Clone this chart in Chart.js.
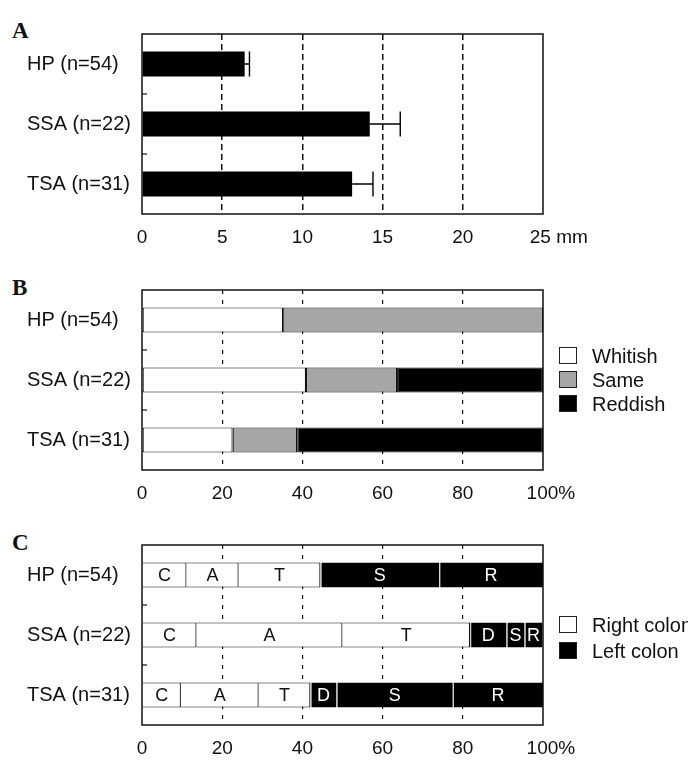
<!DOCTYPE html>
<html>
<head>
<meta charset="utf-8">
<script src="https://cdn.jsdelivr.net/npm/chart.js@4.4.0/dist/chart.umd.min.js"></script>
<style>
  body { margin: 0; background: #fff; }
  #wrap { position: relative; width: 688px; height: 767px; overflow: hidden; font-family: "Liberation Sans", Arial, sans-serif; color: #111; }
  canvas { position: absolute; left: 0; }
  .panel { position: absolute; left: 12px; font-family: "Liberation Serif", "Times New Roman", serif; font-weight: bold; font-size: 23px; line-height: 23px; }
  .box { position: absolute; left: 559px; width: 16px; height: 15px; border: 1px solid #222; }
  .txt { position: absolute; left: 592px; font-size: 20px; line-height: 22px; white-space: nowrap; }
</style>
</head>
<body>
<div id="wrap">
  <div class="panel" style="top:19px">A</div>
  <div class="panel" style="top:276px">B</div>
  <div class="panel" style="top:531px">C</div>
  <canvas id="chartA" width="688" height="256" style="top:0"></canvas>
  <canvas id="chartB" width="688" height="256" style="top:256px"></canvas>
  <canvas id="chartC" width="688" height="256" style="top:511px"></canvas>
  <div id="legB"></div>
  <div id="legC"></div>
</div>
<script>
const groups = ['HP (n=54)', 'SSA (n=22)', 'TSA (n=31)'];

// A: size in mm (mean and error)
const sizeMean = [6.4, 14.2, 13.1];
const sizeErr = [0.3, 1.9, 1.3];
const sizeTicks = ['0', '5', '10', '15', '20', '25'];

// B: colour tone, %
const toneNames = ['Whitish', 'Same', 'Reddish'];
const toneColors = ['#ffffff', '#a6a6a6', '#000000'];
const whitish = [35.2, 40.9, 22.6];
const same = [64.8, 22.7, 16.1];
const reddish = [0, 36.4, 61.3];

// C: location, %
const siteCodes = ['C', 'A', 'T', 'D', 'S', 'R'];
const siteC = [11.1, 13.6, 9.7];
const siteA = [13.0, 36.4, 19.4];
const siteT = [20.4, 31.8, 12.9];
const siteD = [0, 9.1, 6.5];
const siteS = [29.6, 4.5, 29.0];
const siteR = [25.9, 4.5, 22.6];
const sideNames = ['Right colon', 'Left colon'];

const pctTicks = ['0', '20', '40', '60', '80', '100'];

const FONT = '"Liberation Sans", Arial, sans-serif';
Chart.defaults.font.family = FONT;
Chart.defaults.color = '#111';

// frame + little boundary ticks on the category axis
const framePlugin = {
  id: 'frame',
  afterDraw(chart) {
    const {ctx, chartArea: a} = chart;
    const y = chart.scales.y;
    ctx.save();
    ctx.strokeStyle = '#111';
    ctx.lineWidth = 1.5;
    ctx.strokeRect(a.left, a.top, a.right - a.left, a.bottom - a.top);
    ctx.lineWidth = 1.2;
    for (let i = 0; i < groups.length - 1; i++) {
      const yy = (y.getPixelForTick(i) + y.getPixelForTick(i + 1)) / 2;
      ctx.beginPath();
      ctx.moveTo(a.left, yy);
      ctx.lineTo(a.left + 5, yy);
      ctx.stroke();
    }
    ctx.restore();
  }
};

const errorPlugin = {
  id: 'errbars',
  afterDatasetsDraw(chart) {
    const {ctx} = chart;
    const x = chart.scales.x;
    const meta = chart.getDatasetMeta(0);
    ctx.save();
    ctx.strokeStyle = '#000';
    ctx.lineWidth = 1.4;
    meta.data.forEach((bar, i) => {
      const x0 = x.getPixelForValue(sizeMean[i]);
      const x1 = x.getPixelForValue(sizeMean[i] + sizeErr[i]);
      const h = bar.height / 2;
      ctx.beginPath();
      ctx.moveTo(x0, bar.y);
      ctx.lineTo(x1, bar.y);
      ctx.moveTo(x1, bar.y - h);
      ctx.lineTo(x1, bar.y + h);
      ctx.stroke();
    });
    ctx.restore();
  }
};

const segLabelPlugin = {
  id: 'seglabels',
  afterDatasetsDraw(chart) {
    const {ctx} = chart;
    ctx.save();
    ctx.font = '18px ' + FONT;
    ctx.textAlign = 'center';
    ctx.textBaseline = 'middle';
    chart.data.datasets.forEach((ds, i) => {
      chart.getDatasetMeta(i).data.forEach((bar, j) => {
        if (!ds.data[j]) return;
        ctx.fillStyle = i < 3 ? '#111' : '#ffffff';
        ctx.fillText(siteCodes[i], (bar.x + bar.base) / 2, bar.y + 1);
      });
    });
    ctx.restore();
  }
};

function scales(max, step, labels, dash, gridWidth, unit, unitPad) {
  return {
    x: {
      min: 0, max: max,
      ticks: {
        stepSize: step,
        autoSkip: false,
        padding: 12,
        font: {size: 19},
        color: '#111',
        maxRotation: 0,
        callback: (v, i) => i === labels.length - 1 ? unitPad + labels[i] + unit : labels[i]
      },
      grid: {
        drawTicks: false,
        lineWidth: gridWidth,
        color: c => (c.tick && (c.tick.value === 0 || c.tick.value === max)) ? 'rgba(0,0,0,0)' : '#111'
      },
      border: {display: false, dash: dash},
      afterFit: s => { s.height = 42; }
    },
    y: {
      ticks: {
        crossAlign: 'far',
        padding: 0,
        font: {size: 20},
        color: '#111'
      },
      grid: {display: false},
      border: {display: false},
      afterFit: s => { s.width = 115; }
    }
  };
}

function baseOptions(max, step, labels, dash, gridWidth, unit, unitPad) {
  return {
    indexAxis: 'y',
    responsive: false,
    animation: false,
    layout: {padding: {top: 34, left: 27, right: 145, bottom: 0}},
    plugins: {legend: {display: false}, tooltip: {enabled: false}},
    scales: scales(max, step, labels, dash, gridWidth, unit, unitPad)
  };
}

// Panel A
new Chart(document.getElementById('chartA'), {
  type: 'bar',
  data: {
    labels: groups,
    datasets: [{
      data: sizeMean,
      backgroundColor: '#000',
      borderWidth: 0,
      barPercentage: 0.42,
      categoryPercentage: 1
    }]
  },
  options: baseOptions(25, 5, sizeTicks, [6, 4], 1.5, ' mm', '      '),
  plugins: [framePlugin, errorPlugin]
});

// Panel B
const toneData = [whitish, same, reddish];
const optB = baseOptions(100, 20, pctTicks, [4, 6], 1.2, '%', '   ');
optB.scales.x.stacked = true;
optB.scales.y.stacked = true;
new Chart(document.getElementById('chartB'), {
  type: 'bar',
  data: {
    labels: groups,
    datasets: toneNames.map((n, i) => ({
      label: n,
      data: toneData[i],
      backgroundColor: toneColors[i],
      borderColor: '#111',
      borderWidth: 1.2,
      borderSkipped: false,
      barPercentage: 0.42,
      categoryPercentage: 1
    }))
  },
  options: optB,
  plugins: [framePlugin]
});

// Panel C
const siteData = [siteC, siteA, siteT, siteD, siteS, siteR];
const optC = baseOptions(100, 20, pctTicks, [4, 6], 1.2, '%', '   ');
optC.scales.x.stacked = true;
optC.scales.y.stacked = true;
new Chart(document.getElementById('chartC'), {
  type: 'bar',
  data: {
    labels: groups,
    datasets: siteCodes.map((n, i) => ({
      label: n,
      data: siteData[i],
      backgroundColor: i < 3 ? '#ffffff' : '#000000',
      borderColor: i < 3 ? '#111' : '#d0d0d0',
      borderWidth: i < 3 ? 1.2 : {left: 1.2, right: 0, top: 0, bottom: 0},
      borderSkipped: i < 3 ? 'start' : false,
      barPercentage: 0.42,
      categoryPercentage: 1
    }))
  },
  options: optC,
  plugins: [framePlugin, segLabelPlugin]
});

// legends
function legend(el, names, colors, centers) {
  names.forEach((n, i) => {
    const b = document.createElement('div');
    b.className = 'box';
    b.style.top = (centers[i] - 8.5) + 'px';
    b.style.background = colors[i];
    el.appendChild(b);
    const t = document.createElement('div');
    t.className = 'txt';
    t.style.top = (centers[i] - 11) + 'px';
    t.textContent = n;
    el.appendChild(t);
  });
}
legend(document.getElementById('legB'), toneNames, toneColors, [355.5, 379.5, 403.5]);
legend(document.getElementById('legC'), sideNames, ['#ffffff', '#000000'], [624.5, 650.5]);
</script>
</body>
</html>
